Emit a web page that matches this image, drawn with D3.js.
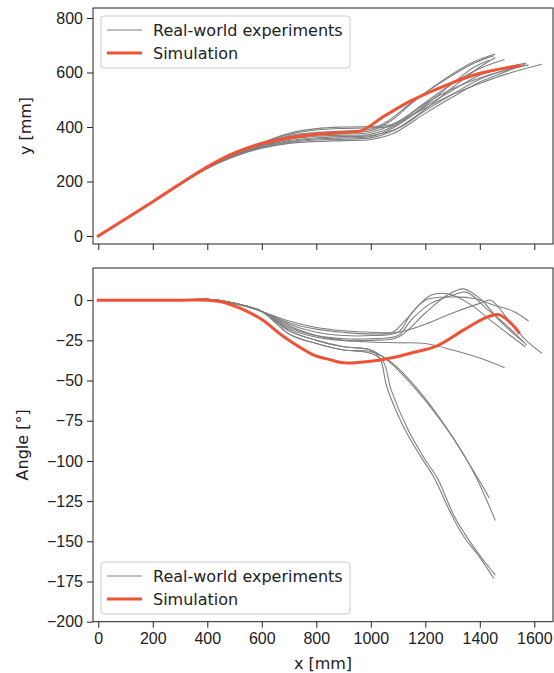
<!DOCTYPE html>
<html>
<head>
<meta charset="utf-8">
<script src="https://cdn.jsdelivr.net/npm/d3@7"></script>
<style>
  body { margin: 0; background: #fff; }
  svg { font-family: "DejaVu Sans", sans-serif; }
  .tick text { font-size: 16px; fill: #222; }
  .tick line { stroke: #222; }
  .domain { display: none; }
</style>
</head>
<body>
<div id="chart"></div>
<script>
// x [mm] ticks and y / angle ticks
const xTicks = [0, 200, 400, 600, 800, 1000, 1200, 1400, 1600];
const yTicks = [0, 200, 400, 600, 800];
const angleTicks = [0, -25, -50, -75, -100, -125, -150, -175, -200];

// simulation: [x, y] and [x, angle]
const simPath = [[0,0],[200,126],[400,254],[500,305],[600,340],[655,352],[777,371],[861,377],[937,383],[968,387],[1050,440],[1145,495],[1278,554],[1401,597],[1545,625]];
const simAngle = [[0,0],[300,0],[400,0],[450,-1],[520,-5],[600,-12],[667,-21],[700,-25],[789,-34],[850,-37],[900,-39],[1000,-38],[1100,-35],[1145,-33],[1243,-28.4],[1341,-18.5],[1420,-11],[1469,-9],[1512,-14],[1543,-20]];

// real-world experiments: [x, y]
const expPaths = [
  [[0,0],[200,126],[400,251],[500,298],[600,334],[700,368],[800,380],[900,385],[1000,392],[1060,420],[1150,490],[1280,578],[1380,635],[1451,662]],
  [[0,0],[200,126],[400,251],[500,297],[600,333],[700,365],[800,376],[900,380],[1000,386],[1070,420],[1160,495],[1280,582],[1380,640],[1457,668]],
  [[0,0],[200,125],[400,249],[500,294],[600,326],[700,346],[800,356],[900,360],[1000,365],[1080,395],[1200,480],[1300,560],[1380,620],[1435,645]],
  [[0,0],[200,125],[400,249],[500,293],[600,324],[700,343],[800,352],[900,355],[1000,360],[1080,385],[1200,465],[1300,545],[1400,620],[1457,655]],
  [[0,0],[200,126],[400,250],[500,296],[600,331],[700,360],[800,371],[900,375],[1000,380],[1100,420],[1200,490],[1300,560],[1400,615],[1491,648]],
  [[0,0],[200,127],[400,253],[500,302],[600,342],[700,377],[800,394],[900,400],[1000,402],[1080,410],[1200,470],[1300,520],[1400,560],[1500,595],[1628,630]],
  [[0,0],[200,127],[400,252],[500,300],[600,340],[700,373],[800,389],[900,395],[1000,397],[1080,405],[1200,485],[1300,540],[1400,580],[1500,610],[1579,628]],
  [[0,0],[200,125],[400,248],[500,292],[600,322],[700,340],[800,347],[900,350],[1000,354],[1080,375],[1200,450],[1300,510],[1400,565],[1500,605],[1567,632]],
  [[0,0],[200,125],[400,249],[500,295],[600,328],[700,350],[800,360],[900,365],[1000,368],[1100,395],[1200,460],[1300,520],[1400,575],[1500,610],[1560,625]],
  [[0,0],[200,126],[400,250],[500,296],[600,330],[700,355],[800,366],[900,370],[1000,373],[1100,410],[1200,475],[1300,535],[1400,590],[1500,620],[1572,635]]
];

// real-world experiments: [x, angle]
const expAngles = [
  [[0,0],[300,0],[400,0.5],[500,-2],[600,-7],[700,-19],[800,-25],[900,-29],[1000,-31],[1035,-37],[1059,-54],[1121,-79],[1182,-97],[1231,-110],[1292,-132],[1341,-147],[1400,-160],[1451,-173]],
  [[0,0],[300,0],[400,0.5],[500,-2],[600,-7],[700,-21],[800,-27],[900,-31],[1000,-33],[1045,-38],[1075,-56],[1135,-80],[1195,-98],[1245,-111],[1305,-134],[1355,-148],[1410,-161],[1457,-171]],
  [[0,0],[300,0],[400,0.5],[500,-2],[600,-7],[700,-19],[800,-25],[900,-29],[1000,-31],[1058,-37],[1168,-56],[1291,-83],[1376,-106],[1435,-123]],
  [[0,0],[300,0],[400,0.5],[500,-2],[600,-7],[700,-21],[800,-27],[900,-31],[1000,-32],[1070,-38],[1180,-57],[1300,-85],[1380,-108],[1457,-137]],
  [[0,0],[300,0],[400,0.5],[500,-2],[600,-7],[700,-17],[800,-22],[900,-25],[1000,-26],[1100,-26.5],[1200,-27],[1300,-31],[1400,-36],[1491,-42]],
  [[0,0],[300,0],[400,0.5],[500,-2],[600,-7],[700,-13],[800,-17],[900,-19],[1000,-20],[1100,-20],[1200,-15],[1300,-8],[1400,-2],[1440,0],[1512,-14],[1570,-25],[1628,-33]],
  [[0,0],[300,0],[400,0.5],[500,-2],[600,-7],[700,-14],[800,-18],[900,-20],[1000,-21],[1080,-20],[1130,-12],[1200,0],[1300,2],[1380,1],[1450,-3],[1524,-7],[1579,-13]],
  [[0,0],[300,0],[400,0.5],[500,-2],[600,-7],[700,-15],[800,-20],[900,-22],[1000,-22],[1100,-20],[1150,-8],[1220,3],[1280,4],[1360,-2],[1450,-14],[1567,-29]],
  [[0,0],[300,0],[400,0.5],[500,-2],[600,-7],[700,-18],[800,-23],[900,-25],[1000,-25],[1100,-23],[1200,-8],[1280,3],[1340,7],[1400,1],[1480,-14],[1560,-26]],
  [[0,0],[300,0],[400,0.5],[500,-2],[600,-7],[700,-16],[800,-22],[900,-24],[1000,-24],[1100,-22],[1150,-12],[1220,-2],[1300,3],[1350,5],[1430,-6],[1500,-16],[1572,-28]]
];

const legendLabels = ["Real-world experiments", "Simulation"];

const width = 554, height = 673;
const expColor = "#808080", simColor = "#ef5234";

const svg = d3.select("#chart").append("svg")
    .attr("width", width)
    .attr("height", height);

const x = d3.scaleLinear().domain([-19.4, 1668.6]).range([93, 553]);
const yTop = d3.scaleLinear().domain([-29.4, 836.7]).range([244, 8]);
const yBot = d3.scaleLinear().domain([-200, 20]).range([621.7, 268]);

function drawPanel(yScale, ticks, expData, simData, yLabel, labelX, showX, legendY) {
    const [y0, y1] = yScale.range();
    const g = svg.append("g");

    const clipId = "clip" + Math.round(y0);
    g.append("clipPath").attr("id", clipId)
      .append("rect")
        .attr("x", 93).attr("y", y1)
        .attr("width", 460).attr("height", y0 - y1);

    const line = d3.line()
        .x(d => x(d[0]))
        .y(d => yScale(d[1]))
        .curve(d3.curveCatmullRom);

    const plot = g.append("g").attr("clip-path", `url(#${clipId})`);
    plot.selectAll(".exp")
      .data(expData)
      .enter().append("path")
        .attr("class", "exp")
        .attr("d", line)
        .attr("fill", "none")
        .attr("stroke", expColor)
        .attr("stroke-width", 1.1);

    plot.append("path")
        .datum(simData)
        .attr("d", line)
        .attr("fill", "none")
        .attr("stroke", simColor)
        .attr("stroke-width", 3)
        .attr("stroke-linecap", "square");

    g.append("g")
        .attr("transform", "translate(93,0)")
        .call(d3.axisLeft(yScale).tickValues(ticks).tickSize(6).tickPadding(4));

    g.append("g")
        .attr("transform", `translate(0,${y0})`)
        .call(d3.axisBottom(x).tickValues(xTicks).tickSize(6).tickPadding(5)
            .tickFormat(showX ? d3.format("d") : ""));

    g.append("rect")
        .attr("x", 93).attr("y", y1)
        .attr("width", 460).attr("height", y0 - y1)
        .attr("fill", "none")
        .attr("stroke", "#222")
        .attr("stroke-width", 1);

    g.append("text")
        .attr("transform", `translate(${labelX},${(y0 + y1) / 2}) rotate(-90)`)
        .attr("text-anchor", "middle")
        .attr("dominant-baseline", "central")
        .style("font-size", "16px")
        .attr("fill", "#222")
        .text(yLabel);

    // legend
    const lg = g.append("g").attr("transform", `translate(101,${legendY})`);
    lg.append("rect")
        .attr("width", 249).attr("height", 52)
        .attr("rx", 3)
        .attr("fill", "#fff").attr("fill-opacity", 0.8)
        .attr("stroke", "#cccccc");
    legendLabels.forEach((lab, i) => {
        const ly = 14 + i * 23;
        lg.append("line")
            .attr("x1", 6).attr("x2", 41)
            .attr("y1", ly).attr("y2", ly)
            .attr("stroke", i === 0 ? expColor : simColor)
            .attr("stroke-width", i === 0 ? 1.1 : 3);
        lg.append("text")
            .attr("x", 52).attr("y", ly)
            .attr("dominant-baseline", "central")
            .style("font-size", "16px")
            .attr("fill", "#222")
            .text(lab);
    });
}

drawPanel(yTop, yTicks, expPaths, simPath, "y [mm]", 25, false, 16);
drawPanel(yBot, angleTicks, expAngles, simAngle, "Angle [°]", 22, true, 562);

svg.append("text")
    .attr("x", 323).attr("y", 663)
    .attr("text-anchor", "middle")
    .attr("dominant-baseline", "central")
    .style("font-size", "16px")
    .attr("fill", "#222")
    .text("x [mm]");
</script>
</body>
</html>
